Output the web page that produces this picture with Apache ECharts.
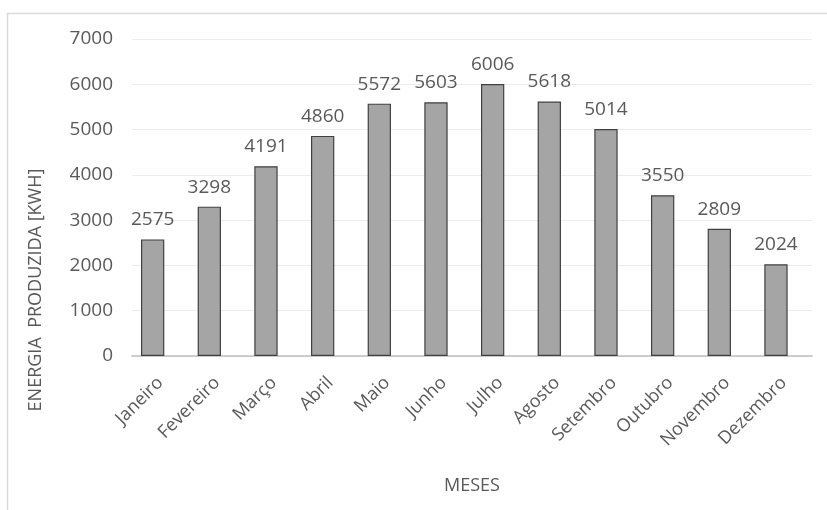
<!DOCTYPE html>
<html>
<head>
<meta charset="utf-8">
<script src="https://cdn.jsdelivr.net/npm/echarts@6/dist/echarts.min.js"></script>
<style>
  html, body { margin: 0; padding: 0; background: #ffffff; }
  #chart { width: 827px; height: 510px; }
</style>
</head>
<body>
<div id="chart"></div>
<script>
// Monthly produced energy (kWh)
const months = ['Janeiro', 'Fevereiro', 'Março', 'Abril', 'Maio', 'Junho',
                'Julho', 'Agosto', 'Setembro', 'Outubro', 'Novembro', 'Dezembro'];
const energy = [2575, 3298, 4191, 4860, 5572, 5603, 6006, 5618, 5014, 3550, 2809, 2024];
// Second (empty) series slot of the clustered layout
const emptySlot = months.map(() => null);
const yTicks = { min: 0, max: 7000, interval: 1000 };

const textColor = '#595959';
const fontFamily = '"Open Sans", "Noto Sans", sans-serif';

const chart = echarts.init(document.getElementById('chart'), null, { renderer: 'canvas' });

chart.setOption({
  backgroundColor: '#ffffff',
  animation: false,
  textStyle: { fontFamily: fontFamily, color: textColor },
  graphic: [
    {
      type: 'rect',
      shape: { x: 7.5, y: 13.5, width: 1000, height: 1000 },
      style: { fill: 'none', stroke: '#d9d9d9', lineWidth: 1.5 },
      silent: true
    },
    {
      type: 'text',
      x: 36,
      y: 290,
      rotation: Math.PI / 2,
      style: {
        text: 'ENERGIA  PRODUZIDA [KWH]',
        fill: textColor,
        font: '18px ' + fontFamily,
        textAlign: 'center',
        textVerticalAlign: 'middle'
      },
      silent: true
    }
  ],
  grid: { left: 132, right: 15, top: 39, bottom: 154 },
  xAxis: {
    type: 'category',
    data: months,
    name: 'MESES',
    nameLocation: 'middle',
    nameGap: 121,
    nameTextStyle: { fontSize: 18, color: textColor, fontFamily: fontFamily },
    axisLine: { lineStyle: { color: '#bfbfbf', width: 1.5 } },
    axisTick: { show: false },
    axisLabel: {
      rotate: 45,
      interval: 0,
      margin: 24,
      fontSize: 18,
      color: textColor,
      fontFamily: fontFamily
    }
  },
  yAxis: {
    type: 'value',
    min: yTicks.min,
    max: yTicks.max,
    interval: yTicks.interval,
    axisLine: { show: false },
    axisTick: { show: false },
    splitLine: { lineStyle: { color: '#ececec', width: 1 } },
    axisLabel: {
      fontSize: 19,
      margin: 19,
      color: textColor,
      fontFamily: fontFamily,
      formatter: (v) => String(v)
    }
  },
  series: [
    {
      type: 'bar',
      data: energy,
      barWidth: 23.3,
      barGap: '-34%',
      itemStyle: { color: '#a5a5a5', borderColor: '#404040', borderWidth: 1.2 },
      label: {
        show: true,
        position: 'top',
        distance: 10,
        fontSize: 19,
        color: textColor,
        fontFamily: fontFamily
      }
    },
    {
      type: 'bar',
      data: emptySlot,
      barWidth: 23.3,
      itemStyle: { color: '#a5a5a5' }
    }
  ]
});
</script>
</body>
</html>
